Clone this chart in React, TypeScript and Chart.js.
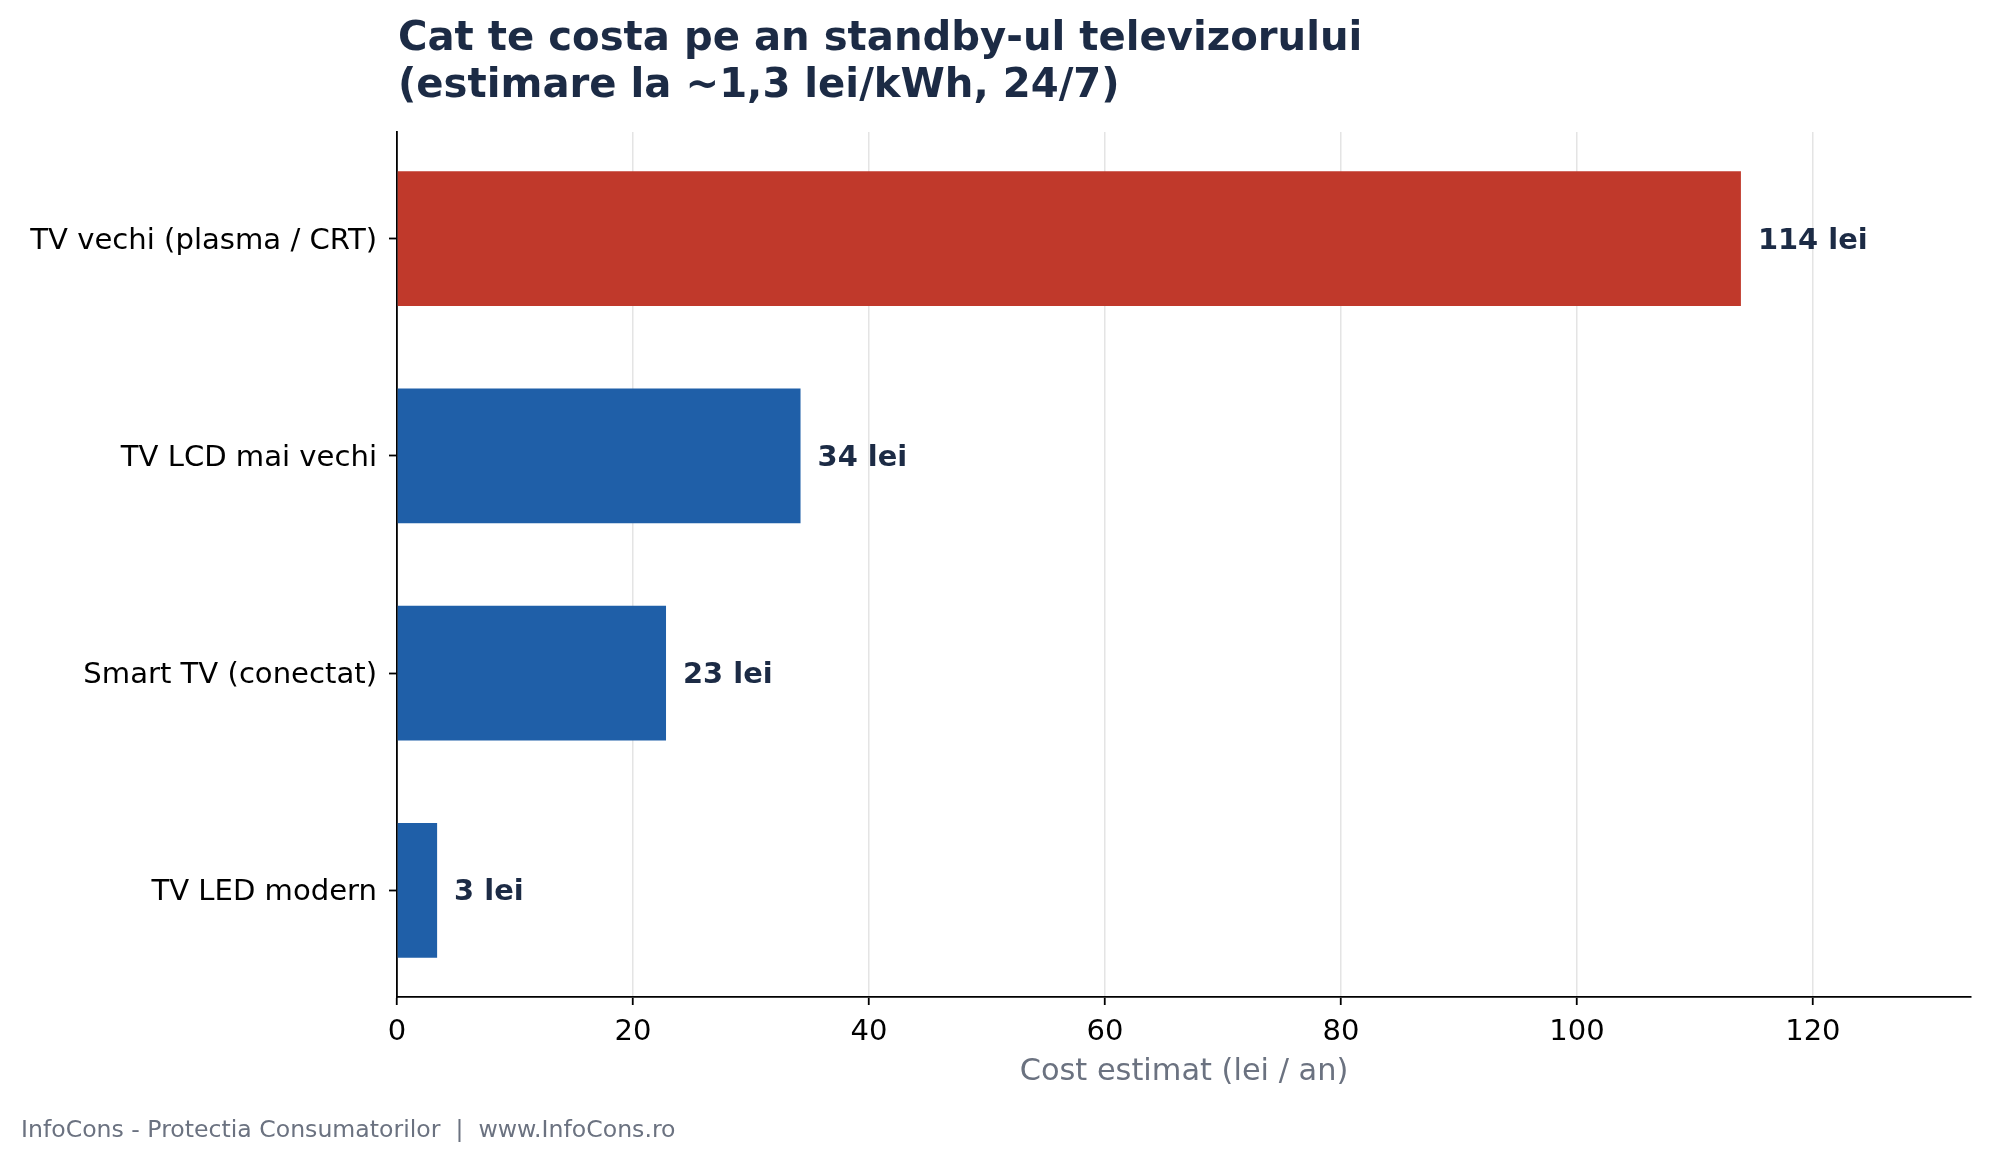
import React, { useEffect, useRef } from "react";
import { Chart, registerables } from "chart.js";

Chart.register(...registerables);

const categories = [
  "TV vechi (plasma / CRT)",
  "TV LCD mai vechi",
  "Smart TV (conectat)",
  "TV LED modern",
];
const costs = [113.9, 34.2, 22.8, 3.4];
const barColors = ["#c0392b", "#1f5fa8", "#1f5fa8", "#1f5fa8"];
const xTicksStep = 20;
const xMax = 133.4;
const titleLines = [
  "Cat te costa pe an standby-ul televizorului",
  "(estimare la ~1,3 lei/kWh, 24/7)",
];
const xAxisTitle = "Cost estimat (lei / an)";
const footerText = "InfoCons - Protectia Consumatorilor  |  www.InfoCons.ro";

const FONT = "'DejaVu Sans', sans-serif";
const NAVY = "#1c2b45";
const GRAY = "#6b7280";

export default function App() {
  const ref = useRef<HTMLCanvasElement | null>(null);

  useEffect(() => {
    if (!ref.current) return;
    const overlay = {
      id: "overlay",
      afterDatasetsDraw(chart: any) {
        const ctx = chart.ctx;
        const xs = chart.scales.x;
        const meta = chart.getDatasetMeta(0);
        ctx.save();
        ctx.fillStyle = NAVY;
        ctx.font = `bold 28.9px ${FONT}`;
        ctx.textAlign = "left";
        ctx.textBaseline = "middle";
        meta.data.forEach((bar: any, i: number) => {
          const x = xs.getPixelForValue(costs[i]) + 17;
          ctx.fillText(`${Math.round(costs[i])} lei`, x, bar.y + 2.5);
        });
        ctx.restore();
      },
      afterDraw(chart: any) {
        const ctx = chart.ctx;
        ctx.save();
        ctx.fillStyle = NAVY;
        ctx.font = `bold 40.2px ${FONT}`;
        ctx.textAlign = "left";
        ctx.textBaseline = "alphabetic";
        ctx.fillText(titleLines[0], 398, 50);
        ctx.fillText(titleLines[1], 398, 97);
        ctx.fillStyle = GRAY;
        ctx.font = `23.6px ${FONT}`;
        ctx.fillText(footerText, 21, 1137);
        ctx.restore();
      },
    };

    const chart = new Chart(ref.current, {
      type: "bar",
      data: {
        datasets: [
          {
            data: costs.map((v, i) => ({ x: v, y: i })),
            backgroundColor: barColors,
            borderWidth: 0,
            barPercentage: 0.62,
            categoryPercentage: 1.0,
          },
        ],
      },
      options: {
        indexAxis: "y",
        responsive: false,
        animation: false,
        devicePixelRatio: 1,
        layout: { padding: { left: 0, top: 132, right: 19, bottom: 0 } },
        plugins: {
          legend: { display: false },
          title: { display: false },
          tooltip: { enabled: false },
        },
        scales: {
          x: {
            type: "linear",
            position: "bottom",
            min: 0,
            max: xMax,
            afterFit: (s: any) => {
              s.height = 167;
            },
            ticks: {
              stepSize: xTicksStep,
              includeBounds: false,
              color: "#000",
              font: { family: FONT, size: 29 },
              padding: 10,
              maxRotation: 0,
            },
            grid: {
              color: "#e4e4e4",
              lineWidth: 1.5,
              drawTicks: true,
              tickLength: 8,
              tickColor: "#000",
              tickWidth: 1.8,
            },
            border: { display: true, color: "#000", width: 1.8 },
            title: {
              display: true,
              text: xAxisTitle,
              color: GRAY,
              font: { family: FONT, size: 30.4 },
              padding: { top: 0, bottom: 74 },
            },
          },
          y: {
            type: "linear",
            min: -0.491,
            max: 3.491,
            reverse: true,
            offset: false,
            afterFit: (s: any) => {
              s.width = 397;
            },
            ticks: {
              stepSize: 1,
              includeBounds: false,
              color: "#000",
              font: { family: FONT, size: 29.1 },
              padding: 12,
              labelOffset: 2.5,
              callback: (v: any) =>
                Number.isInteger(v) && categories[v] !== undefined ? categories[v] : "",
            },
            grid: {
              offset: false,
              drawOnChartArea: false,
              drawTicks: true,
              tickLength: 8,
              tickColor: "#000",
              tickWidth: 1.8,
            },
            border: { display: true, color: "#000", width: 1.8 },
          },
        },
      },
      plugins: [overlay],
    } as any);

    return () => chart.destroy();
  }, []);

  return (
    <div
      style={{
        position: "absolute",
        left: 0,
        top: 0,
        width: 1990,
        height: 1164,
        background: "#fff",
      }}
    >
      <canvas ref={ref} width={1990} height={1164} style={{ width: 1990, height: 1164 }} />
    </div>
  );
}
